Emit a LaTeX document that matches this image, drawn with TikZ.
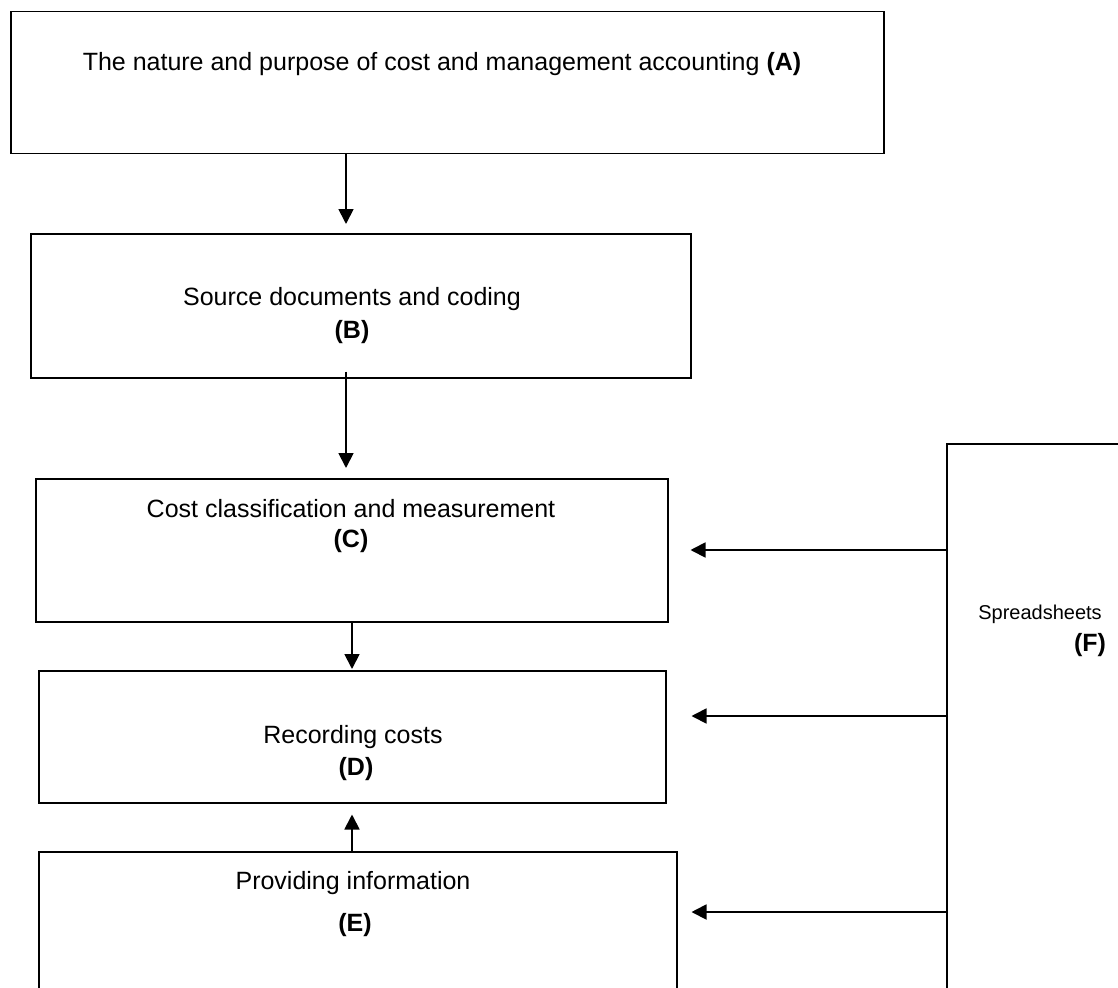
\documentclass[tikz,border=0pt]{standalone}
\usepackage{fontspec}
\setmainfont{Liberation Sans}
\usetikzlibrary{arrows.meta,calc}
\begin{document}
\begin{tikzpicture}[x=1pt,y=-1pt,
  box/.style={draw,line width=1.5pt,anchor=north west,inner sep=0pt},
  txt/.style={anchor=base,inner sep=0pt,font=\fontsize{25}{30}\selectfont},
  smalltxt/.style={anchor=base,inner sep=0pt,font=\fontsize{20}{24}\selectfont},
  arr/.style={line width=1.8pt,-{Triangle[length=15pt,width=15pt]}}]
\useasboundingbox (0,0) rectangle (1118,987);
\clip (0,0) rectangle (1118,987);
\fill[white] (0,0) rectangle (1118,987);
% boxes
\node[box,minimum width=873pt,minimum height=142pt] (A) at (10,11) {};
\node[box,minimum width=660pt,minimum height=144pt] (B) at (30,233) {};
\node[box,minimum width=632pt,minimum height=143pt] (C) at (35,478) {};
\node[box,minimum width=627pt,minimum height=132pt] (D) at (38,670) {};
\node[box,minimum width=638pt,minimum height=220pt] (E) at (38,851) {};
\node[box,minimum width=250pt,minimum height=600pt] (F) at (946,443) {};
% texts
\node[txt] (tA) at (442,71) {The nature and purpose of cost and management accounting \textbf{(A)}};
\node[txt] (tB1) at (352,305) {Source documents and coding};
\node[txt] (tB2) at (352,338) {\textbf{(B)}};
\node[txt] (tC1) at (351,517) {Cost classification and measurement};
\node[txt] (tC2) at (351,547) {\textbf{(C)}};
\node[txt] (tD1) at (353,743) {Recording costs};
\node[txt] (tD2) at (356,775) {\textbf{(D)}};
\node[txt] (tE1) at (353,889) {Providing information};
\node[txt] (tE2) at (355,931) {\textbf{(E)}};
\node[smalltxt] (tF1) at (1040,619) {Spreadsheets};
\node[txt] (tF2) at (1090,651) {\textbf{(F)}};
% helper positions
\coordinate (xa) at (346,0);
\coordinate (xc) at (352,0);
\coordinate (yc) at (0,550);
\coordinate (yd) at (0,716);
\coordinate (ye) at (0,912);
% connectors
\draw[arr,shorten >=9pt] (A.south -| xa) -- (B.north -| xa);
\draw[arr,shorten <=-7pt,shorten >=10pt] (B.south -| xa) -- (C.north -| xa);
\draw[arr,shorten >=1pt] (C.south -| xc) -- (D.north -| xc);
\draw[arr,shorten >=11pt] (E.north -| xc) -- (D.south -| xc);
\draw[arr,shorten <=-2pt,shorten >=22pt] (F.west |- yc) -- (C.east |- yc);
\draw[arr,shorten <=-2pt,shorten >=25pt] (F.west |- yd) -- (D.east |- yd);
\draw[arr,shorten <=-2pt,shorten >=14pt] (F.west |- ye) -- (E.east |- ye);
\end{tikzpicture}
\end{document}
